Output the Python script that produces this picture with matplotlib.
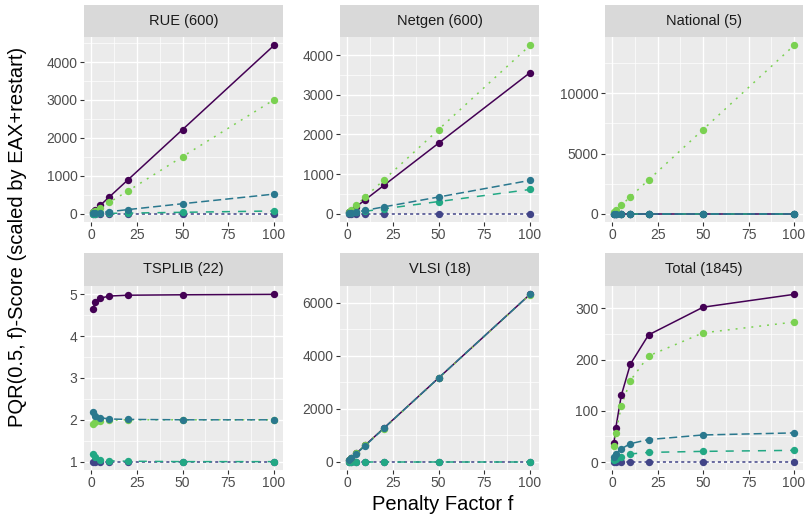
import matplotlib
matplotlib.use("Agg")
import matplotlib.pyplot as plt
from matplotlib.ticker import MultipleLocator, AutoMinorLocator

plt.rcParams['font.family'] = ['Liberation Sans', 'DejaVu Sans']

# Data: penalty factors and one list per algorithm for each facet
penalty = [1, 2, 5, 10, 20, 50, 100]
panel_titles = ['RUE (600)', 'Netgen (600)', 'National (5)', 'TSPLIB (22)', 'VLSI (18)', 'Total (1845)']

rue = [
    [44, 89, 222, 444, 888, 2220, 4440],
    [1, 1, 1, 1, 1, 1, 1],
    [5, 11, 27, 52, 106, 262, 515],
    [1, 1.5, 3.5, 7, 14, 35, 70],
    [30, 60, 150, 300, 595, 1505, 3005],
]
netgen = [
    [36, 71, 178, 356, 712, 1780, 3560],
    [1, 1, 1, 1, 1, 1, 1],
    [8.4, 17, 42, 84, 170, 420, 840],
    [6, 12, 30, 61, 122, 305, 610],
    [42, 85, 212, 425, 850, 2125, 4250],
]
national = [
    [1, 1, 1, 1, 1, 1, 1],
    [1, 1, 1, 1, 1, 1, 1],
    [1, 1, 1, 1, 1, 1, 1],
    [1, 1, 1, 1, 1, 1, 1],
    [140, 280, 700, 1400, 2800, 7000, 14000],
]
tsplib = [
    [4.64, 4.82, 4.91, 4.96, 4.98, 4.99, 5.0],
    [1, 1, 1, 1, 1, 1, 1],
    [2.19, 2.09, 2.05, 2.02, 2.01, 2.0, 2.0],
    [1.18, 1.10, 1.04, 1.02, 1.01, 1.0, 1.0],
    [1.90, 1.95, 1.98, 1.99, 2.0, 2.0, 2.0],
]
vlsi = [
    [63, 126, 316, 632, 1264, 3160, 6320],
    [1, 1, 1, 1, 1, 1, 1],
    [62, 124, 305, 610, 1255, 3165, 6320],
    [1, 1, 1, 1, 1, 1, 1],
    [64, 128, 322, 645, 1250, 3150, 6310],
]
total = [
    [38, 67, 130, 191, 248, 302, 327],
    [1, 1, 1, 1, 1, 1, 1],
    [11, 16, 26, 36, 44, 53, 57],
    [5, 7, 11, 16, 19, 21, 23],
    [32, 57, 109, 159, 207, 252, 273],
]
panel_data = [rue, netgen, national, tsplib, vlsi, total]
y_steps = [1000, 1000, 5000, 1, 2000, 100]

# viridis colours and ggplot-like linetypes
colors = ['#440154', '#414487', '#2A788E', '#22A884', '#7AD151']
dashes = [None, (2.2, 2.2), (5.8, 2.9), (5.8, 5.8), (1.4, 4.3)]
draw_order = [0, 1, 3, 4, 2]

W, H = 811, 521
fig = plt.figure(figsize=(W / 100, H / 100), dpi=100)
plt.rcParams['lines.scale_dashes'] = False

cols = [(84, 283), (340, 539), (605, 803)]
rows = [((5, 37), (37, 222)), ((253, 286), (286, 470))]

for i, (title, data) in enumerate(zip(panel_titles, panel_data)):
    (x0, x1) = cols[i % 3]
    (s0, s1), (p0, p1) = rows[i // 3]

    ax = fig.add_axes([x0 / W, 1 - p1 / H, (x1 - x0) / W, (p1 - p0) / H])
    ax.set_facecolor('#EBEBEB')
    for sp in ax.spines.values():
        sp.set_visible(False)

    for k in draw_order:
        kw = dict(color=colors[k], lw=1.1, zorder=2)
        if dashes[k] is not None:
            kw['dashes'] = dashes[k]
        ax.plot(penalty, data[k], **kw)
    for k in draw_order:
        ax.plot(penalty, data[k], 'o', color=colors[k], ms=5.3, mec='none', zorder=3)

    ax.margins(x=0.05, y=0.05)
    ax.xaxis.set_major_locator(MultipleLocator(25))
    ax.xaxis.set_minor_locator(AutoMinorLocator(2))
    ax.yaxis.set_major_locator(MultipleLocator(y_steps[i]))
    ax.yaxis.set_minor_locator(AutoMinorLocator(2))
    ax.grid(which='major', color='white', lw=1.0, zorder=0)
    ax.grid(which='minor', color='white', lw=0.5, zorder=0)
    ax.set_axisbelow(True)
    ax.tick_params(which='major', length=2.6, width=0.8, color='#333333',
                   labelcolor='#4D4D4D', labelsize=10, pad=2)
    ax.tick_params(which='minor', length=0)

    # facet strip
    st = fig.add_axes([x0 / W, 1 - s1 / H, (x1 - x0) / W, (s1 - s0) / H])
    st.set_facecolor('#D9D9D9')
    st.set_xticks([])
    st.set_yticks([])
    for sp in st.spines.values():
        sp.set_visible(False)
    st.text(0.5, 0.5, title, ha='center', va='center', fontsize=10.5,
            color='#1A1A1A', transform=st.transAxes)

fig.text(18 / W, 1 - 237 / H, 'PQR(0.5, f)-Score (scaled by EAX+restart)',
         rotation=90, ha='center', va='center', fontsize=14.5)
fig.text(443 / W, 1 - 505 / H, 'Penalty Factor f', ha='center', va='center',
         fontsize=14.5)

fig.savefig('out.png', dpi=100)
